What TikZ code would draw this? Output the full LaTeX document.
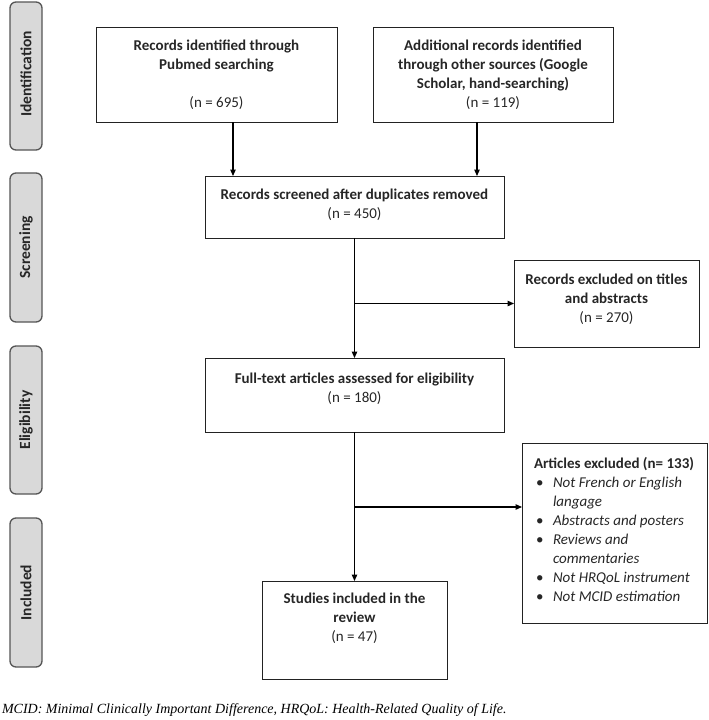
\documentclass[tikz,border=0pt]{standalone}
\usepackage{fontspec}
\setmainfont{Carlito}
\newfontfamily\capfont{Liberation Serif}
\usetikzlibrary{arrows.meta}
\definecolor{sidefill}{HTML}{D9D9D9}
\definecolor{sidedraw}{HTML}{555555}
\definecolor{boxline}{HTML}{222222}
\begin{document}
\begin{tikzpicture}[x=1pt,y=-1pt,
  every node/.style={inner sep=0pt, outer sep=0pt},
  flowbox/.style={draw=boxline, line width=1pt},
  sidebox/.style={draw=sidedraw, fill=sidefill, line width=1.3pt, rounded corners=6pt, minimum width=32pt},
  sidetext/.style={rotate=90, font=\fontsize{15.5}{19}\selectfont\bfseries, text=black!85},
  boxtext/.style={align=center, font=\fontsize{15}{19}\selectfont, text=black!85},
  arr/.style={draw=black, line width=1.2pt, -{Triangle[length=6.5pt,width=5.5pt]}}]
\useasboundingbox (0,0) rectangle (709,720);

% side labels
\node[sidebox, minimum height=148pt] (sId) at (26,76) {};
\node[sidetext] (sIdT) at (26,74) {Identification};
\node[sidebox, minimum height=149pt] (sSc) at (26,247.5) {};
\node[sidetext] (sScT) at (26,247.5) {Screening};
\node[sidebox, minimum height=148pt] (sEl) at (26,420) {};
\node[sidetext] (sElT) at (26,420) {Eligibility};
\node[sidebox, minimum height=149pt] (sIn) at (26,592.5) {};
\node[sidetext] (sInT) at (26,592.5) {Included};

% boxes
\node[flowbox, minimum width=241pt, minimum height=95pt] (pub) at (216.5,74.5) {};
\node[boxtext] (pubT) at (216.5,75) {\bfseries Records identified through\\\bfseries Pubmed searching\\[19pt](n = 695)};

\node[flowbox, minimum width=240pt, minimum height=95pt] (add) at (493,74.5) {};
\node[boxtext] (addT) at (493,75) {\bfseries Additional records identified\\\bfseries through other sources (Google\\\bfseries Scholar, hand-searching)\\(n = 119)};

\node[flowbox, minimum width=299pt, minimum height=62pt] (scr) at (354.5,207) {};
\node[boxtext] (scrT) at (354.5,204.5) {\bfseries Records screened after duplicates removed\\(n = 450)};

\node[flowbox, minimum width=185pt, minimum height=87pt] (ex1) at (606.5,303.5) {};
\node[boxtext] (ex1T) at (606.5,299) {\bfseries Records excluded on titles\\\bfseries and abstracts\\(n = 270)};

\node[flowbox, minimum width=299pt, minimum height=74pt] (ft) at (354.5,395) {};
\node[boxtext] (ftT) at (354.5,388.5) {\bfseries Full-text articles assessed for eligibility\\(n = 180)};

\node[flowbox, minimum width=185pt, minimum height=180pt] (art) at (614.5,533) {};
\node[boxtext, align=left, anchor=west] (artT) at (534,529.5) {\bfseries Articles excluded (n= 133)\\
\hspace*{2pt}\makebox[17pt][l]{\textbullet}\textit{Not French or English}\\
\hspace*{19pt}\textit{langage}\\
\hspace*{2pt}\makebox[17pt][l]{\textbullet}\textit{Abstracts and posters}\\
\hspace*{2pt}\makebox[17pt][l]{\textbullet}\textit{Reviews and}\\
\hspace*{19pt}\textit{commentaries}\\
\hspace*{2pt}\makebox[17pt][l]{\textbullet}\textit{Not HRQoL instrument}\\
\hspace*{2pt}\makebox[17pt][l]{\textbullet}\textit{Not MCID estimation}};

\node[flowbox, minimum width=185pt, minimum height=98pt] (st) at (354.5,630) {};
\node[boxtext] (stT) at (354.5,618) {\bfseries Studies included in the\\\bfseries review\\(n = 47)};

% connectors
\coordinate (c1) at (233,0);
\coordinate (c2) at (477,0);
\coordinate (b2) at (354.5,507);
\draw[arr] (c1 |- pub.south) -- (c1 |- scr.north);
\draw[arr] (c2 |- add.south) -- (c2 |- scr.north);
\draw[arr] (scr.south) -- (ft.north);
\draw[arr] (scr.south |- ex1.west) -- (ex1.west);
\draw[arr] (ft.south) -- (st.north);
\draw[arr] (b2) -- (b2 -| art.west);

% caption
\node[anchor=west, font=\capfont\itshape\fontsize{14}{16}\selectfont] (cap) at (2,710) {MCID: Minimal Clinically Important Difference, HRQoL: Health-Related Quality of Life.};
\end{tikzpicture}
\end{document}
